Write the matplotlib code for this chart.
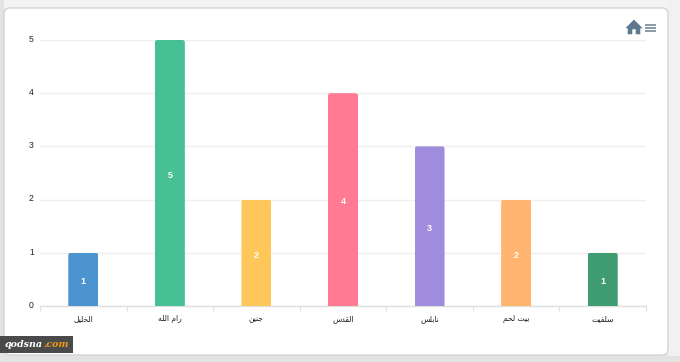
import matplotlib
matplotlib.use("Agg")
import matplotlib.pyplot as plt
from matplotlib.patches import FancyBboxPatch, Polygon, Rectangle
from matplotlib.transforms import IdentityTransform, ScaledTranslation

cities = ["الخلیل", "رام الله", "جنین", "القدس", "نابلس", "بیت لحم", "سلفیت"]
values = [1, 5, 2, 4, 3, 2, 1]
colors = ["#4b94d0", "#47c096", "#ffc65a", "#ff7a92", "#9f8cdc", "#ffb570", "#3e9c70"]
y_ticks = [0, 1, 2, 3, 4, 5]

# matplotlib has no arabic shaping, so pick the joined glyphs by hand
# letter: isolated, final, initial, medial
forms = {
    "ا": "\uFE8D\uFE8E\uFE8D\uFE8E",
    "ب": "\uFE8F\uFE90\uFE91\uFE92",
    "ت": "\uFE95\uFE96\uFE97\uFE98",
    "ج": "\uFE9D\uFE9E\uFE9F\uFEA0",
    "ح": "\uFEA1\uFEA2\uFEA3\uFEA4",
    "خ": "\uFEA5\uFEA6\uFEA7\uFEA8",
    "د": "\uFEA9\uFEAA\uFEA9\uFEAA",
    "ر": "\uFEAD\uFEAE\uFEAD\uFEAE",
    "س": "\uFEB1\uFEB2\uFEB3\uFEB4",
    "ف": "\uFED1\uFED2\uFED3\uFED4",
    "ق": "\uFED5\uFED6\uFED7\uFED8",
    "ل": "\uFEDD\uFEDE\uFEDF\uFEE0",
    "م": "\uFEE1\uFEE2\uFEE3\uFEE4",
    "ن": "\uFEE5\uFEE6\uFEE7\uFEE8",
    "ه": "\uFEE9\uFEEA\uFEEB\uFEEC",
    "ی": "\uFBFC\uFBFD\uFBFE\uFBFF",
}
no_join_after = "ادر"


def shape(text):
    out = []
    for i, ch in enumerate(text):
        if ch not in forms:
            out.append(ch)
            continue
        prev = text[i - 1] if i > 0 else " "
        nxt = text[i + 1] if i < len(text) - 1 else " "
        joins_prev = prev in forms and prev not in no_join_after
        joins_next = nxt in forms and ch not in no_join_after
        idx = {(False, False): 0, (True, False): 1, (False, True): 2, (True, True): 3}[(joins_prev, joins_next)]
        out.append(forms[ch][idx])
    return "".join(out)[::-1]


W, H = 680, 362
fig = plt.figure(figsize=(W / 100, H / 100), dpi=100, facecolor="#e3e3e3")

# page strip on top and the white card, all in pixel coords
bg = fig.add_axes([0, 0, 1, 1])
bg.set_xlim(0, W)
bg.set_ylim(H, 0)
bg.axis("off")
bg.add_patch(Rectangle((4, 0), W - 4, 9, fc="#f3f3f3", ec="none"))
bg.add_patch(Rectangle((668, 0), 12, 356, fc="#f1f1f1", ec="none"))
bg.add_patch(FancyBboxPatch((9, 13), 654, 337, boxstyle="round,pad=5,rounding_size=6",
                            fc="white", ec="#d4d4d4", lw=1))

ax = fig.add_axes([40 / W, 1 - 306 / H, 606 / W, 266 / H])
ax.set_zorder(2)
ax.patch.set_alpha(0)
x = list(range(len(cities)))
bars = ax.bar(x, values, width=30 / 86.6, color=colors, zorder=3)
for i, v in zip(x, values):
    ax.annotate(str(v), (i, v / 2), xytext=(0, -1.7), textcoords="offset points", color="white",
                fontsize=6.5, fontweight="bold", family="Liberation Sans",
                ha="center", va="center", zorder=4)

ax.set_xlim(-0.5, len(cities) - 0.5)
ax.set_ylim(0, 5)
ax.set_yticks(y_ticks)
ax.set_xticks([i - 0.5 for i in range(len(cities) + 1)], minor=True)
ax.set_xticks(x)
ax.set_xticklabels([shape(c) for c in cities], fontsize=5.5, family="DejaVu Sans", color="#222222")
ax.tick_params(axis="x", which="major", length=0, pad=6)
ax.tick_params(axis="x", which="minor", length=3.5, color="#e0e0e0", width=0.8)
ax.tick_params(axis="y", length=0, pad=4.5, labelsize=6.2, labelcolor="#222222")
nudge = ScaledTranslation(0, 1.2 / 72, fig.dpi_scale_trans)
for lab in ax.get_yticklabels():
    lab.set_family("Liberation Sans")
    lab.set_transform(lab.get_transform() + nudge)
ax.grid(axis="y", color="#efefef", lw=1, zorder=0)
for s in ["top", "right", "left"]:
    ax.spines[s].set_visible(False)
ax.spines["bottom"].set_color("#e0e0e0")
ax.spines["bottom"].set_linewidth(1)

# round the top corners of the bars a little
fig.canvas.draw()
for b in bars:
    e = b.get_window_extent()
    clip = FancyBboxPatch((e.x0, e.y0 - 6), e.width, e.height + 6,
                          boxstyle="round,pad=0,rounding_size=2.5", transform=IdentityTransform())
    b.set_clip_path(clip)

# toolbar icons
ov = fig.add_axes([0, 0, 1, 1])
ov.set_xlim(0, W)
ov.set_ylim(H, 0)
ov.axis("off")
ov.set_zorder(5)
ov.add_patch(Polygon([(626, 28), (634, 20), (642, 28), (640, 28), (640, 34), (636, 34), (636, 29),
                      (632, 29), (632, 34), (628, 34), (628, 28)], fc="#5f7890", ec="#5f7890", lw=0.4))
for y0 in [25, 28, 31]:
    ov.plot([645, 656], [y0, y0], color="#8b9aa8", lw=1.4, solid_capstyle="butt")

# watermark
ov.add_patch(Rectangle((0, 336), 73, 17, fc="#4a4a4a", ec="none"))
t1 = ov.text(5, 344.5, "qodsna", color="white", fontsize=6.8, fontweight="bold", style="italic",
             family="DejaVu Serif", va="center", ha="left")
fig.canvas.draw()
bb = t1.get_window_extent().transformed(ov.transData.inverted())
ov.text(bb.x1, 344.5, ".com", color="#f09a1a", fontsize=6.8, fontweight="bold", style="italic",
        family="DejaVu Serif", va="center", ha="left")

fig.savefig("out.png", dpi=100, facecolor=fig.get_facecolor())
